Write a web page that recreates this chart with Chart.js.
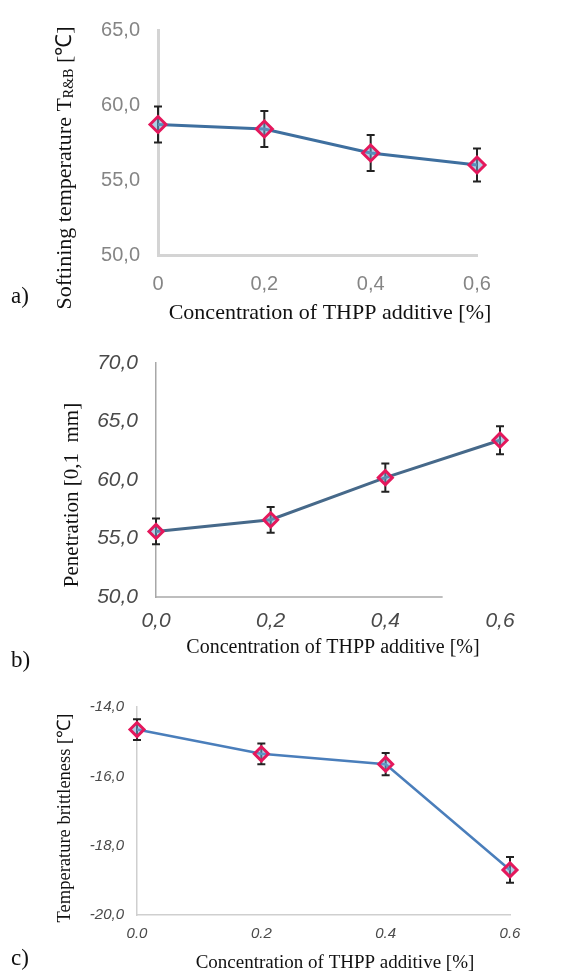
<!DOCTYPE html>
<html lang="en">
<head>
<meta charset="utf-8">
<title>THPP additive</title>
<script src="https://cdn.jsdelivr.net/npm/chart.js@4.4.1/dist/chart.umd.min.js"></script>
<style>
body { margin: 0; background: #fff; width: 562px; height: 980px; position: relative; overflow: hidden; }
.panel { position: absolute; left: 0; width: 562px; }
.tag { position: absolute; left: 11px; font: 23px "Liberation Serif", "Times New Roman", serif; color: #111; line-height: 26px; }
</style>
</head>
<body>
<div class="panel" style="top:0;height:330px"><canvas id="chartA" width="562" height="330"></canvas></div>
<div class="panel" style="top:330px;height:330px"><canvas id="chartB" width="562" height="330"></canvas></div>
<div class="panel" style="top:660px;height:320px"><canvas id="chartC" width="562" height="320"></canvas></div>
<div class="tag" style="top:283px">a)</div>
<div class="tag" style="top:647px">b)</div>
<div class="tag" style="top:945px">c)</div>
<script>
// a) softening point
var concLabelsA = ['0', '0,2', '0,4', '0,6'];
var softening = [58.7, 58.4, 56.8, 56.0];
var softeningErr = [1.2, 1.2, 1.2, 1.1];
// b) penetration
var concLabelsB = ['0,0', '0,2', '0,4', '0,6'];
var penetration = [55.6, 56.6, 60.2, 63.4];
var penetrationErr = [1.1, 1.1, 1.2, 1.2];
// c) brittleness temperature
var concLabelsC = ['0.0', '0.2', '0.4', '0.6'];
var brittleness = [-14.65, -15.35, -15.65, -18.7];
var brittlenessErr = [0.3, 0.3, 0.32, 0.37];

var serif = '"Liberation Serif", "Times New Roman", serif';
var sans = '"Liberation Sans", Arial, sans-serif';

function comma(v) {
    return v.toFixed(1).replace('.', ',');
}

// vertical error bars with caps, from each dataset's "err" array
var errorBars = {
    id: 'errorBars',
    beforeDatasetsDraw: function(chart, args, opts) {
        var ctx = chart.ctx;
        var xs = chart.scales.x, ys = chart.scales.y;
        chart.data.datasets.forEach(function(ds) {
            if (!ds.err) return;
            ctx.save();
            ctx.strokeStyle = opts.color || '#222';
            ctx.lineWidth = opts.width || 2;
            ds.data.forEach(function(v, i) {
                var px = xs.getPixelForValue(i);
                var top = ys.getPixelForValue(v + ds.err[i]);
                var bot = ys.getPixelForValue(v - ds.err[i]);
                var c = opts.cap || 4;
                ctx.beginPath();
                ctx.moveTo(px, top); ctx.lineTo(px, bot);
                ctx.moveTo(px - c, top); ctx.lineTo(px + c, top);
                ctx.moveTo(px - c, bot); ctx.lineTo(px + c, bot);
                ctx.stroke();
            });
            ctx.restore();
        });
        // short x axis line (panel b)
        if (opts.baseTo != null) {
            ctx.save();
            ctx.strokeStyle = opts.baseColor;
            ctx.lineWidth = 1.5;
            ctx.beginPath();
            ctx.moveTo(chart.chartArea.left, chart.chartArea.bottom);
            ctx.lineTo(xs.getPixelForValue(opts.baseTo), chart.chartArea.bottom);
            ctx.stroke();
            ctx.restore();
        }
    }
};

// axis titles, allowing subscript parts
var axisTitles = {
    id: 'axisTitles',
    afterDraw: function(chart, args, opts) {
        var ctx = chart.ctx;
        (opts.items || []).forEach(function(t) {
            ctx.save();
            ctx.translate(t.x, t.y);
            ctx.rotate(t.rot || 0);
            ctx.fillStyle = '#111';
            ctx.textBaseline = 'middle';
            var total = 0;
            t.parts.forEach(function(p) {
                ctx.font = p.size + 'px ' + serif;
                total += ctx.measureText(p.text).width;
            });
            var x = -total / 2;
            t.parts.forEach(function(p) {
                ctx.font = p.size + 'px ' + serif;
                ctx.fillText(p.text, x, p.dy || 0);
                x += ctx.measureText(p.text).width;
            });
            ctx.restore();
        });
    }
};

function makeChart(id, labels, values, errs, cfg) {
    return new Chart(document.getElementById(id), {
        type: 'line',
        data: {
            labels: labels,
            datasets: [{
                data: values,
                err: errs,
                borderColor: cfg.line,
                borderWidth: cfg.lineWidth,
                tension: 0,
                pointStyle: 'rectRot',
                pointRadius: cfg.radius,
                pointBorderWidth: 3,
                pointBorderColor: '#e4185c',
                pointBackgroundColor: 'rgba(110,170,210,0.55)'
            }]
        },
        options: {
            responsive: false,
            animation: false,
            layout: { padding: cfg.padding },
            plugins: {
                legend: { display: false },
                tooltip: { enabled: false },
                errorBars: { color: '#222', width: 2, cap: 4, baseTo: cfg.baseTo, baseColor: cfg.axis },
                axisTitles: { items: cfg.titles }
            },
            scales: {
                x: {
                    offset: false,
                    grid: { display: false, drawTicks: false },
                    border: { display: cfg.baseTo == null, color: cfg.axis, width: cfg.axisWidth },
                    ticks: { color: cfg.tickColor, font: cfg.xFont, padding: cfg.xPad, maxRotation: 0 },
                    afterFit: function(s) { s.height = cfg.xHeight; }
                },
                y: {
                    min: cfg.min,
                    max: cfg.max,
                    grid: { display: false, drawTicks: false },
                    border: { color: cfg.axis, width: cfg.axisWidth },
                    ticks: { stepSize: cfg.step, color: cfg.tickColor, font: cfg.yFont, padding: cfg.yPad,
                        callback: function(v) { return comma(v); } },
                    afterFit: function(s) { s.width = cfg.yWidth; }
                }
            }
        },
        plugins: [errorBars, axisTitles]
    });
}

var xTitle = 'Concentration of THPP additive [%]';

makeChart('chartA', concLabelsA, softening, softeningErr, {
    line: '#3e6f9f', lineWidth: 3, radius: 8, axis: '#d4d4d4', axisWidth: 3,
    tickColor: '#858585', xFont: { family: sans, size: 20 }, yFont: { family: sans, size: 20 },
    min: 50, max: 65, step: 5,
    padding: { top: 27, right: 85, left: 0, bottom: 0 }, yWidth: 158, xHeight: 75, xPad: 17, yPad: 18,
    titles: [
        { x: 65, y: 168, rot: -Math.PI / 2, parts: [
            { text: 'Softining temperature T', size: 22 },
            { text: 'R&B', size: 14, dy: 4 },
            { text: ' [\u2103]', size: 22 }] },
        { x: 330, y: 313, parts: [{ text: xTitle, size: 22 }] }
    ]
});

makeChart('chartB', concLabelsB, penetration, penetrationErr, {
    line: '#46698a', lineWidth: 3, radius: 7, axis: '#a8a8a8', axisWidth: 1.5, baseTo: 2.5,
    tickColor: '#4a4a4a', xFont: { family: sans, size: 21, style: 'italic' }, yFont: { family: sans, size: 21, style: 'italic' },
    min: 50, max: 70, step: 5,
    padding: { top: 33, right: 62, left: 0, bottom: 0 }, yWidth: 156, xHeight: 63, xPad: 12, yPad: 18,
    titles: [
        { x: 72, y: 165, rot: -Math.PI / 2, parts: [{ text: 'Penetration [0,1  mm]', size: 21 }] },
        { x: 333, y: 318, parts: [{ text: xTitle, size: 20 }] }
    ]
});

makeChart('chartC', concLabelsC, brittleness, brittlenessErr, {
    line: '#4a7ebb', lineWidth: 2.5, radius: 7, axis: '#cfcfcf', axisWidth: 1.5,
    tickColor: '#4a4a4a', xFont: { family: sans, size: 15, style: 'italic' }, yFont: { family: sans, size: 15, style: 'italic' },
    min: -20, max: -14, step: 2,
    padding: { top: 47, right: 52, left: 0, bottom: 0 }, yWidth: 137, xHeight: 65, xPad: 10, yPad: 13,
    titles: [
        { x: 65, y: 158, rot: -Math.PI / 2, parts: [{ text: 'Temperature brittleness [\u2103]', size: 18.5 }] },
        { x: 335, y: 303, parts: [{ text: xTitle, size: 19 }] }
    ]
});
</script>
</body>
</html>
